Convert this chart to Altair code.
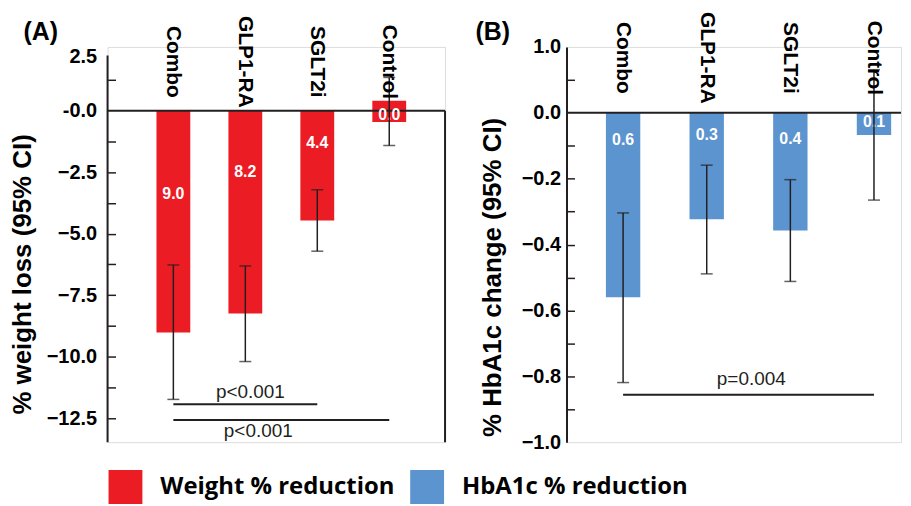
import altair as alt
import pandas as pd

# ---------------- data ----------------
groups = ["Combo", "GLP1-RA", "SGLT2i", "Control"]

weight_mean = [-9.02, -8.24, -4.46, -0.45]
weight_base = [0.0, 0.0, 0.0, 0.41]
weight_lo = [-11.74, -10.20, -5.71, -1.41]
weight_hi = [-6.27, -6.31, -3.21, 1.36]
weight_text = ["9.0", "8.2", "4.4", "0.0"]
weight_text_y = [-3.4, -2.5, -1.32, -0.18]

hba1c_mean = [-0.560, -0.323, -0.357, -0.067]
hba1c_base = [0.0, 0.0, 0.0, 0.0]
hba1c_lo = [-0.819, -0.489, -0.512, -0.265]
hba1c_hi = [-0.304, -0.159, -0.203, 0.131]
hba1c_text = ["0.6", "0.3", "0.4", "0.1"]
hba1c_text_y = [-0.084, -0.068, -0.080, -0.029]

# significance brackets
weight_p_from = ["Combo", "Combo"]
weight_p_to = ["SGLT2i", "Control"]
weight_p_y = [-11.94, -12.58]
weight_p_label = ["p<0.001", "p<0.001"]
weight_p_label_y = [-11.67, -13.25]
weight_p_label_at = ["GLP1-RA", "GLP1-RA"]
weight_p_label_dx = [22, 30]

hba1c_p_from = ["Combo"]
hba1c_p_to = ["Control"]
hba1c_p_y = [-0.856]
hba1c_p_label = ["p=0.004"]
hba1c_p_label_y = [-0.827]
hba1c_p_label_at = ["GLP1-RA"]
hba1c_p_label_dx = [62]

legend_names = ["Weight % reduction", "HbA1c % reduction"]
legend_colors = ["#EC1C24", "#5B94CF"]

# axis tick values
weight_domain = [-13.48, 2.6]
weight_label_values = [2.2, 0.0, -2.5, -5.0, -7.5, -10.0, -12.5]
weight_tick_values = [1.25, -1.25, -2.5, -3.75, -5.0, -6.25, -7.5, -8.75,
                      -10.0, -11.25, -12.5]
hba1c_domain = [-1.0, 0.2]
hba1c_label_values = [0.2, 0.0, -0.2, -0.4, -0.6, -0.8, -1.0]
hba1c_tick_values = [0.1, -0.1, -0.2, -0.3, -0.4, -0.5, -0.6, -0.7, -0.8, -0.9]

FONT = "Liberation Sans"
INK = "#231F20"
H = 397
WA = 339
WB = 336

color_scale = alt.Scale(domain=legend_names, range=legend_colors)
legend = alt.Legend(
    title=None, orient="none", legendX=1, legendY=425, direction="horizontal",
    columns=2, symbolType="square", symbolSize=1156, symbolStrokeWidth=0,
    symbolOpacity=1, labelFont="Open Sans", labelFontWeight="bold",
    labelFontSize=24, labelLimit=400, labelOffset=18, columnPadding=15,
    labelColor="black",
)


def panel(name, mean, base, lo, hi, txt, txt_y, p_from, p_to, p_y, p_label,
          p_label_y, p_label_at, p_label_dx, domain, label_values, tick_values,
          label_expr, title, title_y, width, x_scale, letter, letter_x,
          cat_y, title_padding, label_padding, left_rule_top, right_border):
    df = pd.DataFrame({
        "group": groups, "mean": mean, "base": base, "lo": lo, "hi": hi,
        "txt": txt, "txt_y": txt_y, "measure": [name] * len(groups),
    })
    pdf = pd.DataFrame({"from": p_from, "to": p_to, "y": p_y, "label": p_label,
                        "label_y": p_label_y, "at": p_label_at, "dx": p_label_dx})
    yscale = alt.Scale(domain=domain, nice=False, zero=False)
    x_enc = alt.X("group:N", scale=x_scale, sort=groups,
                  axis=alt.Axis(labels=False, ticks=False, title=None,
                                domainWidth=2, domainColor=INK))
    x_none = alt.X("group:N", scale=x_scale, sort=groups, axis=None)
    base_chart = alt.Chart(df)

    bars = base_chart.mark_bar(opacity=1).encode(
        x=x_enc,
        y=alt.Y("mean:Q", scale=yscale,
                axis=alt.Axis(title=title, values=label_values, labelExpr=label_expr,
                              ticks=False, domain=(left_rule_top is None),
                              domainWidth=2, domainColor=INK,
                              labelFont=FONT, labelFontWeight="bold", labelFontSize=20,
                              labelColor="black", labelPadding=label_padding,
                              titleFont=FONT, titleFontWeight="bold", titleFontSize=26,
                              titleColor="black", titlePadding=title_padding,
                              titleY=title_y, grid=False)),
        y2="base:Q",
        color=alt.Color("measure:N", scale=color_scale, legend=legend),
    )
    inner_ticks = base_chart.mark_rule(opacity=0).encode(
        x=x_none,
        y=alt.Y("lo:Q", scale=yscale,
                axis=alt.Axis(orient="right", offset=-width, labels=False,
                              domain=False, ticks=True, tickSize=8, tickWidth=1.5,
                              tickColor=INK, values=tick_values, title=None,
                              grid=False)),
    )
    zero = alt.Chart(pd.DataFrame({"z": [0.0]})).mark_rule(
        color=INK, strokeWidth=2).encode(y=alt.Y("z:Q", scale=yscale, axis=None))
    layers = [bars, inner_ticks, zero]
    if left_rule_top is not None:
        layers.append(alt.Chart(pd.DataFrame({"a": [left_rule_top], "b": [domain[0]]}))
                      .mark_rule(color=INK, strokeWidth=2)
                      .encode(x=alt.value(0),
                              y=alt.Y("a:Q", scale=yscale, axis=None), y2="b:Q"))
    if right_border:
        layers.append(alt.Chart(pd.DataFrame({"a": [0.0], "b": [domain[0]]}))
                      .mark_rule(color=INK, strokeWidth=2)
                      .encode(x=alt.value(width),
                              y=alt.Y("a:Q", scale=yscale, axis=None), y2="b:Q"))
    values = base_chart.mark_text(color="white", font=FONT, fontWeight="bold",
                                  fontSize=16, baseline="middle").encode(
        x=x_none, y=alt.Y("txt_y:Q", scale=yscale, axis=None), text="txt:N")
    err = base_chart.mark_rule(color=INK, strokeWidth=1.5).encode(
        x=x_none, y=alt.Y("lo:Q", scale=yscale, axis=None), y2="hi:Q")
    cap_lo = base_chart.mark_tick(color=INK, thickness=1.5, size=12,
                                  orient="horizontal").encode(
        x=x_none, y=alt.Y("lo:Q", scale=yscale, axis=None))
    cap_hi = base_chart.mark_tick(color=INK, thickness=1.5, size=12,
                                  orient="horizontal").encode(
        x=x_none, y=alt.Y("hi:Q", scale=yscale, axis=None))
    cats = base_chart.mark_text(color="black", font=FONT, fontWeight="bold",
                                fontSize=21, angle=90, align="center",
                                baseline="middle").encode(
        x=x_none, y=alt.value(cat_y), text="group:N")
    p_lines = alt.Chart(pdf).mark_rule(color=INK, strokeWidth=2).encode(
        x=alt.X("from:N", scale=x_scale, axis=None, bandPosition=0.5),
        x2="to:N",
        y=alt.Y("y:Q", scale=yscale, axis=None))
    p_text = alt.Chart(pdf).mark_text(color=INK, font=FONT, fontSize=19,
                                      align="center", baseline="alphabetic").encode(
        x=alt.X("at:N", scale=x_scale, axis=None),
        y=alt.Y("label_y:Q", scale=yscale, axis=None),
        xOffset=alt.XOffset("dx:Q", scale=None),
        text="label:N")
    letter_mark = alt.Chart(pd.DataFrame({"t": [letter]})).mark_text(
        color="black", font=FONT, fontWeight="bold", fontSize=25, align="center",
        baseline="alphabetic").encode(x=alt.value(letter_x), y=alt.value(-7), text="t:N")
    layers += [values, err, cap_lo, cap_hi, cats, p_lines, p_text, letter_mark]
    return alt.layer(*layers).resolve_axis(y="independent").properties(
        width=width, height=H)


xa = alt.Scale(domain=groups, paddingInner=0.53, paddingOuter=0.61, align=0.557)
xb = alt.Scale(domain=groups, paddingInner=0.589, paddingOuter=0.2945, align=0.80)

pa = panel("Weight % reduction", weight_mean, weight_base, weight_lo, weight_hi,
           weight_text, weight_text_y, weight_p_from, weight_p_to, weight_p_y,
           weight_p_label, weight_p_label_y, weight_p_label_at, weight_p_label_dx,
           weight_domain, weight_label_values, weight_tick_values,
           "datum.value == 0 ? '-0.0' : (datum.value > 2 ? '2.5' : format(datum.value, '.1f'))",
           "% weight loss (95% CI)", 228, WA, xa, "(A)", -67, 15, 11, 11, 2.25, True)
pb = panel("HbA1c % reduction", hba1c_mean, hba1c_base, hba1c_lo, hba1c_hi,
           hba1c_text, hba1c_text_y, hba1c_p_from, hba1c_p_to, hba1c_p_y,
           hba1c_p_label, hba1c_p_label_y, hba1c_p_label_at, hba1c_p_label_dx,
           hba1c_domain, hba1c_label_values, hba1c_tick_values,
           "datum.value > 0.15 ? '1.0' : format(datum.value, '.1f')",
           "% HbA1c change (95% CI)", 231, WB, xb, "(B)", -74, 11, 16, 6, None, False)

chart = alt.hconcat(pa, pb, spacing=122, bounds="flush").properties(
    padding={"left": 0, "top": 2, "right": 0, "bottom": 0}
).configure_view(stroke=None).configure(font=FONT)

chart.save("out.html", embed_options={"renderer": "svg", "actions": False})
